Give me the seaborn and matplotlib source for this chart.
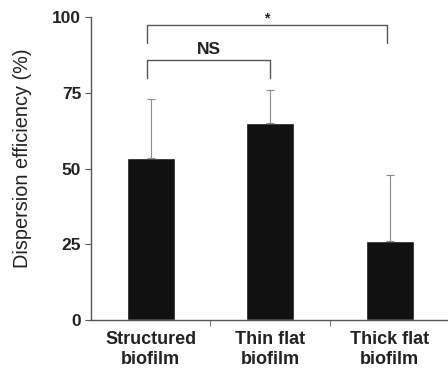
import pandas as pd
import seaborn as sns
import matplotlib.pyplot as plt

categories = ["Structured\nbiofilm", "Thin flat\nbiofilm", "Thick flat\nbiofilm"]
means = [53.6, 65.2, 26.0]
sd_upper = [19.5, 10.8, 22.0]

df = pd.DataFrame({"group": categories, "efficiency": means})

sns.set_style("ticks")
plt.rcParams["font.family"] = ["Liberation Sans", "DejaVu Sans"]

fig = plt.figure(figsize=(4.48, 3.70), dpi=100)
ax = fig.add_axes([0.203, 0.135, 0.80, 0.818])

sns.barplot(data=df, x="group", y="efficiency", color="#111111",
            width=0.40, errorbar=None, ax=ax, saturation=1)

# upward-only error bars
ax.errorbar(range(len(means)), means, yerr=[[0] * len(means), sd_upper],
            fmt="none", ecolor="#8a8a8a", elinewidth=0.8, capsize=3, capthick=0.8)

ax.set_xlim(-0.5, 2.5)
ax.set_ylim(0, 100)
ax.set_yticks([0, 25, 50, 75, 100])
ax.set_xticks(range(len(categories)))
ax.set_xticklabels(categories, fontsize=13, fontweight="bold", color="#222222",
                   linespacing=1.25)
ax.set_xticks([0.5, 1.5], minor=True)
ax.tick_params(axis="x", which="major", length=0, pad=8)
ax.tick_params(axis="x", which="minor", length=4, color="#555555")
ax.tick_params(axis="y", length=4, color="#555555", pad=3)
for lab in ax.get_yticklabels():
    lab.set_fontsize(12.5)
    lab.set_fontweight("bold")
    lab.set_color("#222222")
ax.set_xlabel("")
ax.set_ylabel("Dispersion efficiency (%)", fontsize=14.3, color="#222222")
ax.yaxis.set_label_coords(-0.165, 0.536)
sns.despine(ax=ax)
for s in ["left", "bottom"]:
    ax.spines[s].set_color("#555555")
    ax.spines[s].set_linewidth(1.0)

# significance brackets
def bracket(x1, x2, y_low, y_high, text, fs, dy):
    ax.plot([x1, x1, x2, x2], [y_low, y_high, y_high, y_low], color="#555555", lw=1.0,
            clip_on=False)
    ax.text((x1 + x2) / 2, y_high + dy, text, ha="center", va="bottom",
            fontsize=fs, fontweight="bold", color="#222222")

bracket(-0.03, 1.0, 80, 86, "NS", 12.5, 1.0)
bracket(-0.03, 1.98, 91.7, 97.4, "*", 10, 0.0)

fig.savefig("out.png", dpi=100)
